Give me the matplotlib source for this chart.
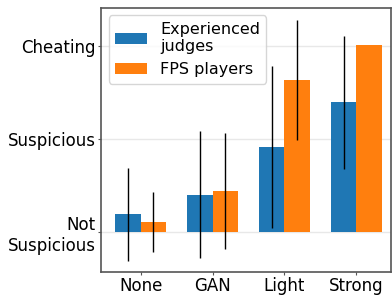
import numpy as np
import matplotlib.pyplot as plt

# values (0 = Not Suspicious, 1 = Suspicious, 2 = Cheating)
categories = ['None', 'GAN', 'Light', 'Strong']
judges_mean = [0.19, 0.40, 0.91, 1.39]
judges_err = [0.50, 0.68, 0.87, 0.71]
players_mean = [0.11, 0.44, 1.63, 2.01]
players_err = [0.32, 0.62, 0.645, 0.0]
ytick_labels = ['Not\nSuspicious', 'Suspicious', 'Cheating']

fig = plt.figure(figsize=(3.92, 2.95), dpi=100)
ax = fig.add_axes([101/392, 1 - 272/295, 290/392, (272 - 7.5)/295])

x = np.arange(len(categories))
w = 0.35
ax.bar(x - w/2, judges_mean, w, yerr=judges_err, color='#1f77b4',
       error_kw=dict(elinewidth=1, ecolor='black'), label='Experienced\njudges', zorder=2)
ax.bar(x + w/2, players_mean, w, yerr=players_err, color='#ff7f0e',
       error_kw=dict(elinewidth=1, ecolor='black'), label='FPS players', zorder=2)

ax.set_xticks(x)
ax.set_xticklabels(categories, fontsize=12)
ax.set_yticks([0, 1, 2])
ax.set_yticklabels(ytick_labels, fontsize=12)
ax.tick_params(length=2, pad=1.6, color='#555555')
ax.set_xlim(-0.55, 3.48)
ax.set_ylim(-0.43, 2.41)
ax.grid(axis='y', color='#e8e8e8', linewidth=1, zorder=0)
ax.set_axisbelow(True)
for s in ax.spines.values():
    s.set_color('#555555')
    s.set_linewidth(1.2)

ax.legend(loc='upper left', fontsize=11.5, handlelength=2.0)

fig.savefig('out.png', dpi=100)
